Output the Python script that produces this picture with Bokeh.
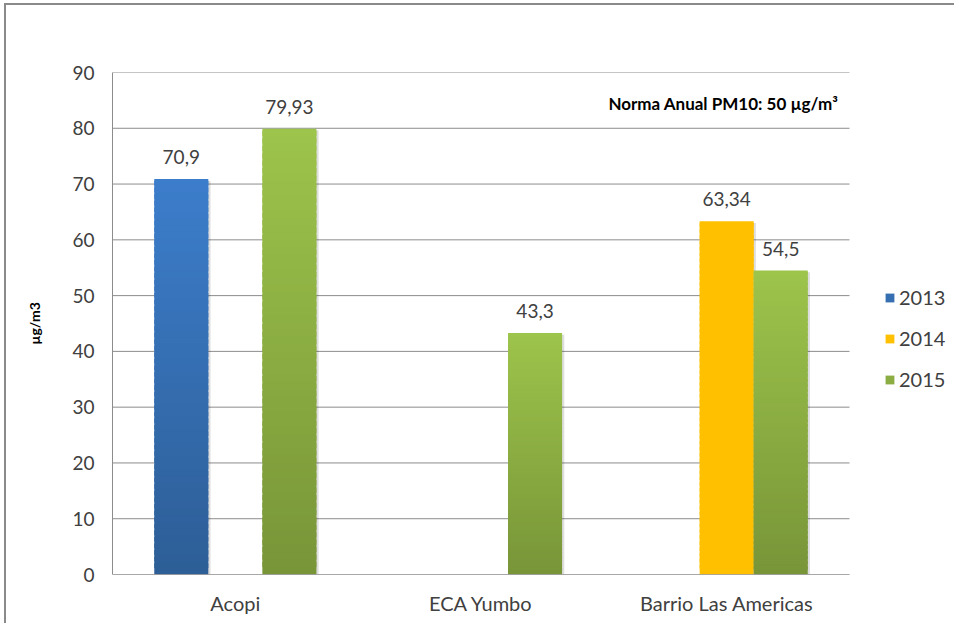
from bokeh.plotting import figure
from bokeh.models import (ColumnDataSource, Range1d, Legend, LegendItem,
                          Label, FixedTicker, InlineStyleSheet)
from bokeh.core.properties import value
from bokeh.embed import file_html
from bokeh.resources import INLINE

# ---------------- data ----------------
categories = ["Acopi", "ECA Yumbo", "Barrio Las Americas"]
years = ["2013", "2014", "2015"]
values_2013 = [70.9, None, None]
values_2014 = [None, None, 63.34]
values_2015 = [79.93, 43.3, 54.5]
y_ticks = [0, 10, 20, 30, 40, 50, 60, 70, 80, 90]
y_label = "µg/m3"
norm_text = "Norma Anual PM10: 50 µg/m³"

# ---------------- styling / layout ----------------
FONT = "Lato"
TXT = "#404040"
GRID = "#8c8c8c"
grad = {
    "2013": ((45, 94, 150), (60, 125, 203)),
    "2014": ((255, 192, 0), (255, 192, 0)),
    "2015": ((120, 149, 56), (157, 196, 75)),
}
offsets = {"2013": -0.22, "2014": 0.0, "2015": 0.22}
BAR_W = 0.22
NSEG = 60

W, H = 950, 620
B_LEFT, B_TOP, B_BOTTOM = 106, 67, 51
PLOT_W = 737                    # width of the category area in px
FRAME_W = W - B_LEFT
X_MAX = len(categories) * FRAME_W / PLOT_W

series = {"2013": values_2013, "2014": values_2014, "2015": values_2015}
cat_x = [i + 0.5 for i in range(len(categories))]

p = figure(x_range=Range1d(0, X_MAX), y_range=Range1d(0, 90),
           width=W, height=H, output_backend="svg", toolbar_location=None,
           min_border_left=B_LEFT, min_border_right=0, min_border_top=B_TOP,
           min_border_bottom=B_BOTTOM)
p.stylesheets = [
    InlineStyleSheet(css=":host { margin-left: 6px; margin-top: 5px; "
                         "box-shadow: -2px -2px 0 0 #8a8a8a; }"),
]
p.outline_line_color = None
p.background_fill_color = "white"
p.border_fill_color = "white"
p.xgrid.grid_line_color = None
p.ygrid.grid_line_color = None

# horizontal gridlines over the category area only
p.segment(x0=[0] * len(y_ticks), x1=[len(categories)] * len(y_ticks),
          y0=y_ticks, y1=y_ticks, line_color=GRID, line_width=1)


def lerp(c0, c1, t):
    return "#%02x%02x%02x" % tuple(int(round(a + (b - a) * t)) for a, b in zip(c0, c1))


def fmt(v):
    s = ("%.2f" % v).rstrip("0").rstrip(".")
    return s.replace(".", ",")


bar_renderers = {}
for yr in years:
    vals = series[yr]
    xs, bots, tops, cols = [], [], [], []
    sx, stop = [], []
    lx, ly, lt = [], [], []
    for cx, v in zip(cat_x, vals):
        if v is None:
            continue
        c0, c1 = grad[yr]
        x = cx + offsets[yr]
        for i in range(NSEG):
            xs.append(x)
            bots.append(v * i / NSEG)
            tops.append(min(v, v * (i + 1.7) / NSEG))
            cols.append(lerp(c0, c1, (i + 0.5) / NSEG))
        sx.append(x + 0.009)
        stop.append(v - 0.3)
        lx.append(x)
        ly.append(v)
        lt.append(fmt(v))
    p.vbar(x=sx, top=stop, bottom=0, width=BAR_W, fill_color="#000000",
           fill_alpha=0.13, line_color=None)
    src = ColumnDataSource(dict(x=xs, bottom=bots, top=tops, color=cols))
    bar_renderers[yr] = p.vbar(x="x", top="top", bottom="bottom", width=BAR_W,
                               source=src, fill_color="color", line_color=None)
    p.text(x=lx, y=ly, text=lt, text_align="center", text_baseline="alphabetic",
           y_offset=-22, text_font=value(FONT), text_font_size="19px",
           text_color=TXT)

# baseline of the category axis
p.segment(x0=[0], x1=[len(categories)], y0=[0], y1=[0], line_color=GRID, line_width=1)

items = [LegendItem(label=yr, renderers=[bar_renderers[yr]], index=NSEG // 2)
         for yr in years]
legend = Legend(items=items, location=(772, 183), orientation="vertical",
                border_line_color=None, background_fill_alpha=0, padding=0, margin=0,
                glyph_width=11, glyph_height=11, label_standoff=4, spacing=17,
                label_text_font=FONT, label_text_font_size="20px",
                label_text_color=TXT)
p.add_layout(legend)

p.add_layout(Label(x=726, y=471, x_units="screen", y_units="screen", text=norm_text,
                   text_align="right", text_baseline="middle",
                   text_font=FONT, text_font_size="17px", text_font_style="bold",
                   text_color="#000000"))

# axes
p.xaxis.ticker = FixedTicker(ticks=cat_x)
p.xaxis.major_label_overrides = {x: c for x, c in zip(cat_x, categories)}
p.yaxis.ticker = FixedTicker(ticks=y_ticks)
for ax in (p.xaxis, p.yaxis):
    ax.major_tick_line_color = None
    ax.minor_tick_line_color = None
    ax.major_tick_out = 0
    ax.major_tick_in = 0
    ax.major_label_text_font = FONT
    ax.major_label_text_color = TXT
p.xaxis.axis_line_color = None
p.yaxis.axis_line_color = GRID
p.yaxis.axis_line_width = 1

p.yaxis.major_label_text_font_size = "19px"
p.yaxis.major_label_standoff = 18
p.yaxis.axis_label = y_label
p.yaxis.axis_label_text_font = FONT
p.yaxis.axis_label_text_font_size = "14px"
p.yaxis.axis_label_text_font_style = "bold"
p.yaxis.axis_label_text_color = "#000000"
p.yaxis.axis_label_standoff = 26

p.xaxis.major_label_text_font_size = "20px"
p.xaxis.major_label_standoff = 16

open("out.html", "w").write(file_html(p, INLINE))
